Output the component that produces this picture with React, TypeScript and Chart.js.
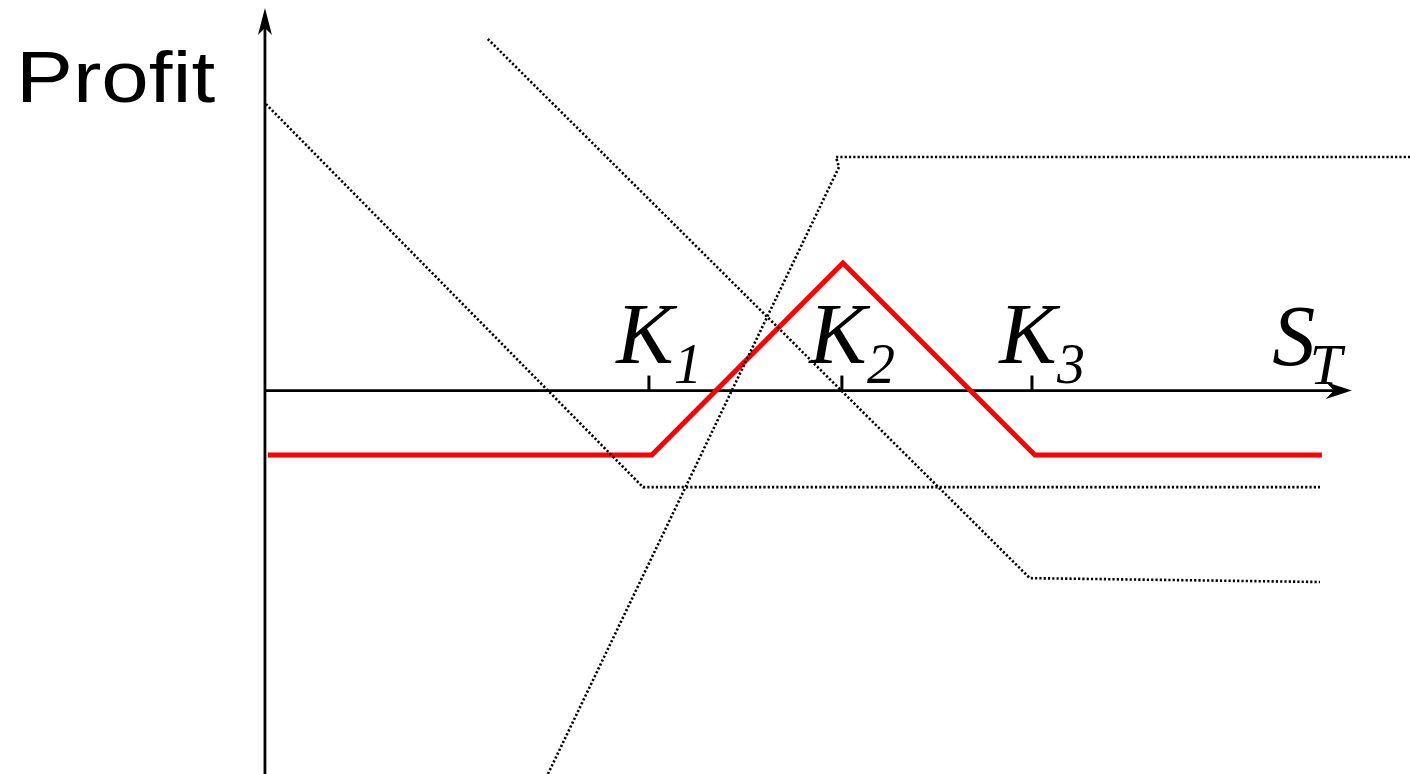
import React, { useEffect, useRef } from "react";
import { Chart, registerables } from "chart.js";

Chart.register(...registerables);

// ---- Data (stock price S_T on x, profit on y, arbitrary units) ----
const strikeNames = ["1", "2", "3"];
const strikes = [20.0, 30.05, 39.95];

const butterflyX = [0.15, 20.15, 30.1, 40.1, 55.05];
const butterflyY = [-3.36, -3.36, 6.64, -3.36, -3.36];

const longPutK1X = [0.05, 19.69, 54.95];
const longPutK1Y = [14.92, -5.03, -5.03];

const longPutK3X = [11.61, 39.84, 54.95];
const longPutK3Y = [18.31, -9.77, -9.97];

const shortPutsK2X = [14.74, 29.9, 29.74, 59.64];
const shortPutsK2Y = [-19.97, 11.64, 12.16, 12.16];

const xRange = [-13.8, 59.64];
const yRange = [-19.97, 20.34];
const axisXEnd = 56.61;
const axisYTop = 19.92;

const toPoints = (xs: number[], ys: number[]) => xs.map((x, i) => ({ x, y: ys[i] }));

const axesPlugin = {
  id: "payoffAxes",
  beforeDatasetsDraw(chart: any) {
    const { ctx, scales } = chart;
    const xs = scales.x;
    const ys = scales.y;
    const x0 = xs.getPixelForValue(0);
    const y0 = ys.getPixelForValue(0);
    const yTop = ys.getPixelForValue(axisYTop);
    const xEnd = xs.getPixelForValue(axisXEnd);
    ctx.save();
    ctx.strokeStyle = "#000";
    ctx.fillStyle = "#000";
    ctx.lineWidth = 2.8;
    // y axis
    ctx.beginPath();
    ctx.moveTo(x0, chart.height);
    ctx.lineTo(x0, yTop + 10);
    ctx.stroke();
    ctx.beginPath();
    ctx.moveTo(x0, yTop);
    ctx.lineTo(x0 - 7, yTop + 27);
    ctx.lineTo(x0, yTop + 20);
    ctx.lineTo(x0 + 7, yTop + 27);
    ctx.closePath();
    ctx.fill();
    // x axis
    ctx.beginPath();
    ctx.moveTo(x0, y0);
    ctx.lineTo(xEnd - 10, y0);
    ctx.stroke();
    ctx.beginPath();
    ctx.moveTo(xEnd, y0);
    ctx.lineTo(xEnd - 26, y0 - 8.5);
    ctx.lineTo(xEnd - 18, y0);
    ctx.lineTo(xEnd - 26, y0 + 8.5);
    ctx.closePath();
    ctx.fill();
    // strike ticks
    ctx.lineWidth = 3;
    strikes.forEach((k) => {
      const tx = xs.getPixelForValue(k);
      ctx.beginPath();
      ctx.moveTo(tx, y0);
      ctx.lineTo(tx, y0 - 15);
      ctx.stroke();
    });
    ctx.restore();
  },
  afterDraw(chart: any) {
    const { ctx, scales } = chart;
    const xs = scales.x;
    const ys = scales.y;
    const x0 = xs.getPixelForValue(0);
    const y0 = ys.getPixelForValue(0);
    const yTop = ys.getPixelForValue(axisYTop);
    const xEnd = xs.getPixelForValue(axisXEnd);
    ctx.save();
    ctx.fillStyle = "#000";
    ctx.textBaseline = "alphabetic";
    strikes.forEach((k, i) => {
      const tx = xs.getPixelForValue(k);
      ctx.font = "italic 86px 'Liberation Serif'";
      ctx.textAlign = "center";
      ctx.fillText("K", tx - 4, y0 - 27.5);
      ctx.font = "italic 56px 'Liberation Serif'";
      ctx.textAlign = "left";
      ctx.fillText(strikeNames[i], tx + 25, y0 - 7.5);
    });
    ctx.font = "italic 86px 'Liberation Serif'";
    ctx.textAlign = "center";
    ctx.fillText("S", xEnd - 58, y0 - 25.5);
    ctx.font = "italic 58px 'Liberation Serif'";
    ctx.textAlign = "left";
    ctx.fillText("T", xEnd - 42, y0 - 6.5);
    // Profit label
    ctx.font = "73px 'Liberation Sans'";
    ctx.textAlign = "left";
    ctx.translate(x0 - 249, yTop + 94);
    ctx.scale(1.17, 1);
    ctx.fillText("Profit", 0, 0);
    ctx.restore();
  },
};

export default function App() {
  const canvasRef = useRef<HTMLCanvasElement | null>(null);

  useEffect(() => {
    document.body.style.margin = "0";
    const canvas = canvasRef.current;
    if (!canvas) return;
    const dotted = {
      borderColor: "#000",
      borderWidth: 2.6,
      borderDash: [2.2, 2.1],
      pointRadius: 0,
      tension: 0,
      fill: false,
      order: 1,
      clip: false as any,
    };
    const chart = new Chart(canvas, {
      type: "line",
      data: {
        datasets: [
          { ...dotted, label: "Long put K1", data: toPoints(longPutK1X, longPutK1Y) },
          { ...dotted, label: "Long put K3", data: toPoints(longPutK3X, longPutK3Y) },
          { ...dotted, label: "Short 2 puts K2", data: toPoints(shortPutsK2X, shortPutsK2Y) },
          {
            label: "Butterfly",
            data: toPoints(butterflyX, butterflyY),
            borderColor: "#ff0000",
            borderWidth: 5,
            borderJoinStyle: "miter",
            pointRadius: 0,
            tension: 0,
            fill: false,
            order: 2,
          },
        ],
      },
      options: {
        animation: false,
        responsive: false,
        events: [],
        layout: { padding: 0 },
        plugins: { legend: { display: false }, tooltip: { enabled: false } },
        scales: {
          x: { type: "linear", min: xRange[0], max: xRange[1], display: false },
          y: { type: "linear", min: yRange[0], max: yRange[1], display: false },
        },
      },
      plugins: [axesPlugin],
    });
    return () => chart.destroy();
  }, []);

  return (
    <div style={{ position: "fixed", left: 0, top: 0, width: 1410, height: 774, background: "#fff" }}>
      <canvas ref={canvasRef} width={1410} height={774} />
    </div>
  );
}
